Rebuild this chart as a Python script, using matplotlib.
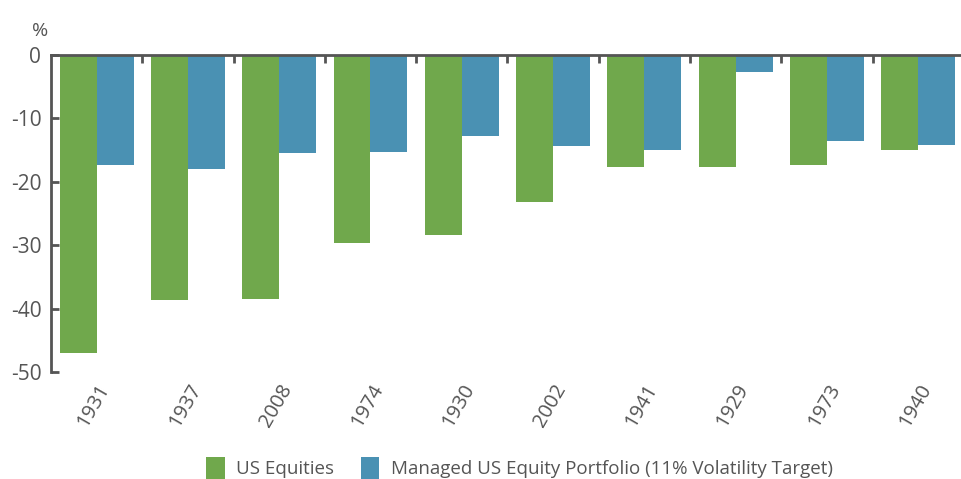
import numpy as np
import matplotlib.pyplot as plt
from matplotlib import font_manager

names = {f.name for f in font_manager.fontManager.ttflist}
fam = 'Liberation Sans Narrow' if 'Liberation Sans Narrow' in names else 'Open Sans'
plt.rcParams['font.family'] = [fam, 'DejaVu Sans']
plt.rcParams['axes.unicode_minus'] = False

years = ['1931', '1937', '2008', '1974', '1930', '2002', '1941', '1929', '1973', '1940']
us_equities = [-47.0, -38.6, -38.5, -29.7, -28.4, -23.2, -17.7, -17.7, -17.4, -15.0]
managed = [-17.4, -18.0, -15.5, -15.3, -12.8, -14.4, -15.0, -2.7, -13.6, -14.2]

green = '#70a84c'
blue = '#4a91b3'
grey = '#555555'

fig = plt.figure(figsize=(9.62, 4.79), dpi=100)
ax = fig.add_axes([0.053, 0.2234, 0.947, 0.6618])

x = np.arange(len(years))
w = 0.405
ax.bar(x - w / 2, us_equities, w, color=green, label='US Equities')
ax.bar(x + w / 2, managed, w, color=blue,
       label='Managed US Equity Portfolio (11% Volatility Target)')

ax.set_xlim(-0.5, 9.48)
ax.set_ylim(-50, 0)

for s in ['right', 'bottom']:
    ax.spines[s].set_visible(False)
for s in ['left', 'top']:
    ax.spines[s].set_color(grey)
    ax.spines[s].set_linewidth(2)

ax.set_yticks([0, -10, -20, -30, -40, -50])
ax.tick_params(axis='y', direction='in', length=6, width=2, color=grey,
               labelsize=15, labelcolor=grey, pad=7)

ax.set_xticks(x)
ax.set_xticklabels(years, rotation=60, ha='right', rotation_mode='anchor')
ax.tick_params(axis='x', which='major', length=0, labelsize=14.5,
               labelcolor=grey, pad=6)
ax.set_xticks(x[:-1] + 0.5, minor=True)
ax.tick_params(axis='x', which='minor', top=True, bottom=False,
               direction='in', length=6, width=2, color=grey)

fig.text(0.042, 0.955, '%', fontsize=14, color=grey, ha='center', va='top')

fig.legend(loc='lower center', ncol=2, frameon=False, fontsize=13.5,
           labelcolor=grey, handlelength=1.0, handleheight=1.4,
           handletextpad=0.6, columnspacing=1.4, bbox_to_anchor=(0.54, -0.035))

fig.savefig('out.png', dpi=100)
